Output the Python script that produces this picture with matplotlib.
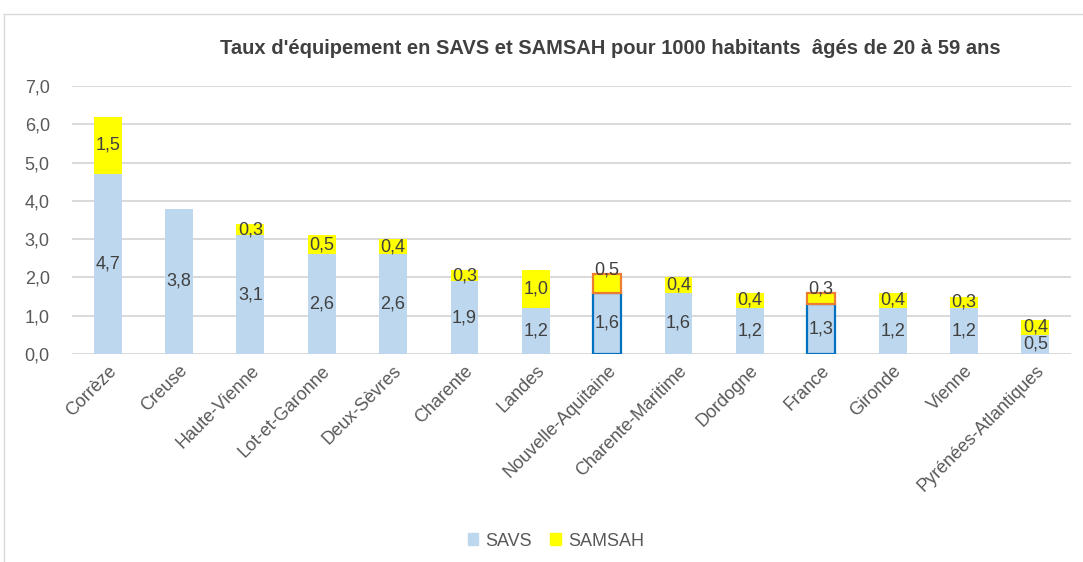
import matplotlib.pyplot as plt
from matplotlib.lines import Line2D

categories = ['Corrèze', 'Creuse', 'Haute-Vienne', 'Lot-et-Garonne', 'Deux-Sèvres',
              'Charente', 'Landes', 'Nouvelle-Aquitaine', 'Charente-Maritime',
              'Dordogne', 'France', 'Gironde', 'Vienne', 'Pyrénées-Atlantiques']
savs = [4.7, 3.8, 3.1, 2.6, 2.6, 1.9, 1.2, 1.6, 1.6, 1.2, 1.3, 1.2, 1.2, 0.5]
samsah = [1.5, 0.0, 0.3, 0.5, 0.4, 0.3, 1.0, 0.5, 0.4, 0.4, 0.3, 0.4, 0.3, 0.4]
highlighted = ['Nouvelle-Aquitaine', 'France']
yticks = [0, 1, 2, 3, 4, 5, 6, 7]

plt.rcParams['font.family'] = ['Liberation Sans', 'DejaVu Sans']

fig = plt.figure(figsize=(10.83, 5.62), dpi=100)
ax = fig.add_axes([72 / 1083, 1 - 354 / 562, 999 / 1083, 268 / 562])

x = list(range(len(categories)))
width = 0.39
blue = '#BDD7EE'
yellow = '#FFFF00'

for i, cat in enumerate(categories):
    hl = cat in highlighted
    ax.bar(i, savs[i], width, color=blue, zorder=3,
           edgecolor='#0070C0' if hl else 'none', linewidth=1.6 if hl else 0)
    if samsah[i] > 0:
        ax.bar(i, samsah[i], width, bottom=savs[i], color=yellow, zorder=3,
               edgecolor='#ED7D31' if hl else 'none', linewidth=1.6 if hl else 0)

    ax.text(i, savs[i] / 2, f'{savs[i]:.1f}'.replace('.', ','), ha='center', va='center',
            fontsize=13, color='#404040', zorder=4)
    if samsah[i] > 0:
        if hl:
            ypos = savs[i] + samsah[i] + 0.1
        else:
            ypos = savs[i] + samsah[i] / 2
        ax.text(i, ypos, f'{samsah[i]:.1f}'.replace('.', ','), ha='center', va='center',
                fontsize=13, color='#404040', zorder=4)

ax.set_xlim(-0.5, len(categories) - 0.5)
ax.set_ylim(0, 7)
ax.set_yticks(yticks)
ax.set_yticklabels([f'{v:.1f}'.replace('.', ',') for v in yticks], fontsize=13, color='#595959')
ax.set_xticks(x)
ax.set_xticklabels(categories, rotation=45, ha='right', rotation_mode='anchor',
                   fontsize=13, color='#595959')
ax.tick_params(axis='both', length=0)
ax.tick_params(axis='y', pad=16)
ax.tick_params(axis='x', pad=6)
ax.grid(axis='y', color='#D9D9D9', linewidth=1.4, zorder=0)
for s in ax.spines.values():
    s.set_visible(False)

fig.text(610 / 1083, 1 - 48 / 562,
         "Taux d'équipement en SAVS et SAMSAH pour 1000 habitants  âgés de 20 à 59 ans",
         ha='center', va='center', fontsize=14.5, fontweight='bold', color='#404040',
         family=['Liberation Sans Narrow', 'Liberation Sans'])

handles = [plt.Rectangle((0, 0), 1, 1, color=blue), plt.Rectangle((0, 0), 1, 1, color=yellow)]
fig.legend(handles, ['SAVS', 'SAMSAH'], loc='center', bbox_to_anchor=(556 / 1083, 1 - 541 / 562),
           ncol=2, frameon=False, fontsize=13, handlelength=0.6, handleheight=0.6,
           handletextpad=0.4, columnspacing=1.0, labelcolor='#595959')

fig.add_artist(Line2D([4 / 1083, 4 / 1083], [0, 1 - 14 / 562], transform=fig.transFigure,
                      color='#D9D9D9', linewidth=1))
fig.add_artist(Line2D([4 / 1083, 1], [1 - 14 / 562, 1 - 14 / 562], transform=fig.transFigure,
                      color='#D9D9D9', linewidth=1))

fig.savefig('out.png', dpi=100)
